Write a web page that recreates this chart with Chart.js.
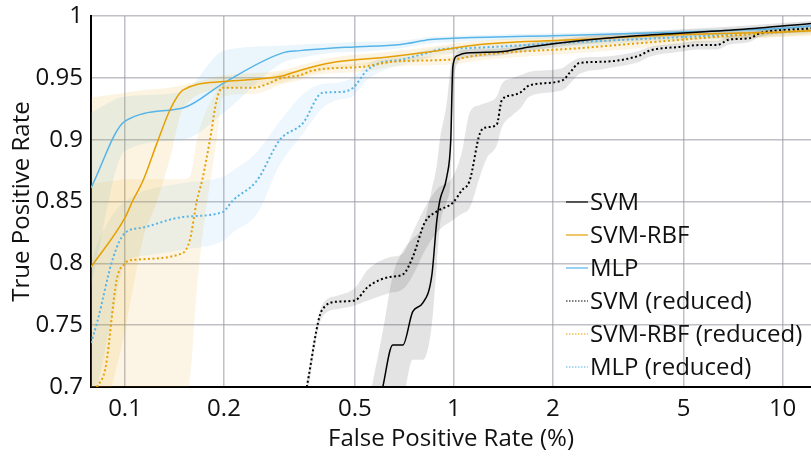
<!DOCTYPE html>
<html>
<head>
<meta charset="utf-8">
<script src="https://cdn.jsdelivr.net/npm/chart.js@4.4.1/dist/chart.umd.min.js"></script>
<style>
html, body { margin: 0; padding: 0; background: #fff; }
</style>
</head>
<body>
<canvas id="myChart" width="811" height="456"></canvas>
<script>
// ROC curves, x = false positive rate (%), y = true positive rate
const svmX  = [0.563, 0.608, 0.652, 0.700, 0.750, 0.805, 0.857, 0.888, 0.907, 0.952, 0.979, 0.993, 1.028, 1.095, 1.38, 1.70, 2.41, 3.6, 7.4, 12.2];
const svmY  = [0.660, 0.700, 0.734, 0.734, 0.761, 0.768, 0.790, 0.835, 0.851, 0.870, 0.900, 0.959, 0.968, 0.970, 0.971, 0.975, 0.980, 0.984, 0.989, 0.994];
const svmHi = [0.700, 0.745, 0.790, 0.810, 0.820, 0.830, 0.860, 0.880, 0.900, 0.930, 0.960, 0.965, 0.971, 0.973, 0.974, 0.978, 0.983, 0.987, 0.992, 0.996];
const svmLo = [0.620, 0.660, 0.680, 0.690, 0.722, 0.722, 0.750, 0.800, 0.830, 0.850, 0.870, 0.930, 0.962, 0.966, 0.968, 0.972, 0.977, 0.981, 0.986, 0.991];

const rbfX  = [0.0788, 0.1, 0.1057, 0.1135, 0.125, 0.137, 0.150, 0.200, 0.300, 0.340, 0.420, 0.640, 0.846, 1.20, 2.41, 5.0, 10.0, 12.2];
const rbfY  = [0.797, 0.837, 0.851, 0.867, 0.897, 0.924, 0.940, 0.947, 0.9515, 0.956, 0.962, 0.967, 0.971, 0.977, 0.981, 0.985, 0.987, 0.988];
const rbfHi = [0.934, 0.938, 0.939, 0.940, 0.941, 0.942, 0.944, 0.952, 0.956, 0.960, 0.966, 0.971, 0.975, 0.980, 0.984, 0.988, 0.990, 0.991];
const rbfLo = [0.640, 0.745, 0.780, 0.820, 0.850, 0.885, 0.925, 0.941, 0.946, 0.951, 0.957, 0.962, 0.966, 0.973, 0.977, 0.981, 0.983, 0.984];

const mlpX  = [0.0788, 0.1, 0.15, 0.2, 0.3, 0.34, 0.42, 0.5, 0.69, 0.85, 1.0, 2.0, 5.0, 10.0, 12.2];
const mlpY  = [0.861, 0.915, 0.9256, 0.946, 0.970, 0.972, 0.974, 0.975, 0.977, 0.981, 0.982, 0.984, 0.987, 0.990, 0.992];
const mlpHi = [0.922, 0.935, 0.939, 0.972, 0.976, 0.977, 0.978, 0.979, 0.980, 0.983, 0.984, 0.986, 0.989, 0.992, 0.994];
const mlpLo = [0.780, 0.891, 0.900, 0.922, 0.962, 0.966, 0.970, 0.971, 0.974, 0.978, 0.979, 0.982, 0.985, 0.988, 0.990];

const svmRedX  = [0.357, 0.397, 0.444, 0.500, 0.548, 0.639, 0.700, 0.750, 0.816, 0.888, 0.993, 1.058, 1.118, 1.20, 1.26, 1.35, 1.40, 1.51, 1.59, 1.70, 2.14, 2.25, 2.41, 2.84, 3.67, 3.94, 4.86, 5.6, 6.3, 6.9, 7.94, 8.5, 12.2];
const svmRedY  = [0.700, 0.762, 0.769, 0.770, 0.781, 0.789, 0.791, 0.805, 0.833, 0.842, 0.849, 0.859, 0.867, 0.905, 0.910, 0.912, 0.932, 0.936, 0.938, 0.944, 0.948, 0.954, 0.962, 0.963, 0.968, 0.972, 0.975, 0.9765, 0.9765, 0.981, 0.982, 0.986, 0.990];
const svmRedHi = [0.705, 0.766, 0.774, 0.780, 0.795, 0.805, 0.808, 0.825, 0.845, 0.860, 0.870, 0.890, 0.922, 0.928, 0.930, 0.935, 0.945, 0.950, 0.952, 0.955, 0.958, 0.962, 0.966, 0.967, 0.972, 0.975, 0.978, 0.980, 0.980, 0.984, 0.985, 0.989, 0.993];
const svmRedLo = [0.690, 0.756, 0.763, 0.766, 0.770, 0.776, 0.779, 0.790, 0.810, 0.825, 0.835, 0.840, 0.845, 0.870, 0.885, 0.895, 0.910, 0.920, 0.925, 0.935, 0.940, 0.945, 0.953, 0.957, 0.963, 0.967, 0.971, 0.973, 0.973, 0.977, 0.979, 0.983, 0.987];

const rbfRedX  = [0.0788, 0.0822, 0.0873, 0.0943, 0.1, 0.1057, 0.149, 0.1575, 0.1655, 0.1716, 0.1813, 0.190, 0.198, 0.245, 0.302, 0.340, 0.373, 0.530, 0.652, 1.0, 1.2, 2.41, 3.67, 7.4, 12.2];
const rbfRedY  = [0.690, 0.700, 0.716, 0.7865, 0.800, 0.8027, 0.808, 0.819, 0.851, 0.867, 0.900, 0.932, 0.942, 0.942, 0.950, 0.952, 0.956, 0.959, 0.963, 0.965, 0.9685, 0.974, 0.978, 0.9846, 0.9887];
const rbfRedHi = [0.865, 0.865, 0.866, 0.867, 0.868, 0.868, 0.868, 0.870, 0.900, 0.915, 0.930, 0.940, 0.946, 0.947, 0.955, 0.956, 0.959, 0.962, 0.966, 0.968, 0.972, 0.977, 0.981, 0.987, 0.991];
const rbfRedLo = [0.550, 0.550, 0.560, 0.580, 0.600, 0.610, 0.680, 0.705, 0.780, 0.820, 0.865, 0.900, 0.935, 0.937, 0.945, 0.948, 0.952, 0.955, 0.959, 0.961, 0.964, 0.970, 0.974, 0.981, 0.985];

const mlpRedX  = [0.0788, 0.0822, 0.0921, 0.1, 0.1135, 0.15, 0.198, 0.213, 0.252, 0.296, 0.348, 0.397, 0.441, 0.493, 0.544, 0.596, 0.685, 0.828, 0.907, 1.095, 2.41, 5.0, 10.0, 12.2];
const mlpRedY  = [0.7356, 0.752, 0.805, 0.8245, 0.829, 0.8375, 0.8415, 0.851, 0.867, 0.900, 0.9135, 0.9377, 0.9385, 0.9418, 0.956, 0.962, 0.9645, 0.970, 0.973, 0.974, 0.979, 0.983, 0.987, 0.989];
const mlpRedHi = [0.800, 0.815, 0.840, 0.850, 0.858, 0.865, 0.870, 0.875, 0.890, 0.915, 0.937, 0.945, 0.946, 0.950, 0.960, 0.966, 0.968, 0.973, 0.975, 0.976, 0.981, 0.985, 0.989, 0.991];
const mlpRedLo = [0.680, 0.700, 0.760, 0.800, 0.806, 0.811, 0.818, 0.825, 0.840, 0.880, 0.905, 0.925, 0.932, 0.935, 0.948, 0.955, 0.960, 0.966, 0.969, 0.970, 0.975, 0.980, 0.984, 0.986];

const xTicks = [0.1, 0.2, 0.5, 1, 2, 5, 10];
const legendNames = ['SVM', 'SVM-RBF', 'MLP', 'SVM (reduced)', 'SVM-RBF (reduced)', 'MLP (reduced)'];

const BLACK = '#000000';
const ORANGE = '#E69F00';
const BLUE = '#56B4E9';

function pts(xs, ys) {
	return xs.map((x, i) => ({ x: x, y: ys[i] }));
}

function lineSet(label, xs, ys, color, dotted) {
	return {
		label: label,
		data: pts(xs, ys),
		borderColor: color,
		borderWidth: dotted ? 2 : 1.5,
		borderDash: dotted ? [2, 2.5] : [],
		pointRadius: 0,
		fill: false,
		cubicInterpolationMode: 'monotone',
		order: 1,
	};
}

// two datasets per band: lower edge, then upper edge filled down to it
function bandSets(xs, lo, hi, fillColor) {
	return [
		{
			label: '_lo',
			data: pts(xs, lo),
			borderWidth: 0,
			borderColor: 'transparent',
			pointRadius: 0,
			fill: false,
			cubicInterpolationMode: 'monotone',
			order: 10,
		},
		{
			label: '_hi',
			data: pts(xs, hi),
			borderWidth: 0,
			borderColor: 'transparent',
			backgroundColor: fillColor,
			pointRadius: 0,
			fill: '-1',
			cubicInterpolationMode: 'monotone',
			order: 10,
		},
	];
}

const datasets = [
	lineSet('SVM', svmX, svmY, BLACK, false),
	lineSet('SVM-RBF', rbfX, rbfY, ORANGE, false),
	lineSet('MLP', mlpX, mlpY, BLUE, false),
	lineSet('SVM (reduced)', svmRedX, svmRedY, BLACK, true),
	lineSet('SVM-RBF (reduced)', rbfRedX, rbfRedY, ORANGE, true),
	lineSet('MLP (reduced)', mlpRedX, mlpRedY, BLUE, true),
	...bandSets(svmX, svmLo, svmHi, 'rgba(0,0,0,0.11)'),
	...bandSets(rbfX, rbfLo, rbfHi, 'rgba(230,159,0,0.12)'),
	...bandSets(mlpX, mlpLo, mlpHi, 'rgba(86,180,233,0.12)'),
	...bandSets(svmRedX, svmRedLo, svmRedHi, 'rgba(0,0,0,0.10)'),
	...bandSets(rbfRedX, rbfRedLo, rbfRedHi, 'rgba(230,159,0,0.10)'),
	...bandSets(mlpRedX, mlpRedLo, mlpRedHi, 'rgba(86,180,233,0.10)'),
];

/* legende dessinee dans la zone du graphique */
const insideLegend = {
	id: 'insideLegend',
	afterDraw(chart, args, opts) {
		const ctx = chart.ctx;
		ctx.save();
		ctx.font = '24px "Open Sans", sans-serif';
		ctx.textBaseline = 'middle';
		legendNames.forEach((name, i) => {
			const ds = chart.data.datasets.find((d) => d.label === name);
			const y = opts.top + i * opts.gap;
			ctx.strokeStyle = ds.borderColor;
			ctx.lineWidth = 1.2;
			ctx.setLineDash(ds.borderDash.length ? [1.5, 1.5] : []);
			ctx.beginPath();
			ctx.moveTo(opts.left, y);
			ctx.lineTo(opts.left + 22, y);
			ctx.stroke();
			ctx.setLineDash([]);
			ctx.fillStyle = '#111';
			ctx.fillText(name, opts.left + 24, y + 1);
		});
		ctx.restore();
	},
};

Chart.defaults.font.family = '"Open Sans", sans-serif';
Chart.defaults.font.size = 24;
Chart.defaults.color = '#111';

const GRID = 'rgba(150,150,160,0.6)';

const config = {
	type: 'line',
	data: { datasets: datasets },
	options: {
		responsive: false,
		animation: false,
		devicePixelRatio: 1,
		layout: { padding: 0 },
		plugins: {
			legend: false,
			tooltip: { enabled: false },
			insideLegend: { left: 566, top: 202, gap: 33 },
		},
		scales: {
			x: {
				type: 'logarithmic',
				min: 0.0788,
				max: 12.2,
				afterBuildTicks: (scale) => {
					scale.ticks = xTicks.map((v) => ({ value: v }));
				},
				ticks: {
					autoSkip: false,
					maxRotation: 0,
					padding: 8,
					callback: (v) => String(v),
				},
				grid: { color: GRID, lineWidth: 1.5, drawTicks: false },
				border: { color: '#000', width: 2 },
				title: { display: true, text: 'False Positive Rate (%)', padding: { top: 0, bottom: 2 } },
				afterFit: (scale) => {
					scale.height = 69;
					scale.paddingLeft = 0;
					scale.paddingRight = 0;
				},
			},
			y: {
				type: 'linear',
				min: 0.7,
				max: 1,
				ticks: {
					stepSize: 0.05,
					padding: 8,
					callback: (v) => String(+v.toFixed(2)),
				},
				grid: { color: GRID, lineWidth: 1.5, drawTicks: false },
				border: { color: '#000', width: 2 },
				title: { display: true, text: 'True Positive Rate', padding: { top: 8, bottom: 0 } },
				afterFit: (scale) => {
					scale.width = 91;
					scale.paddingTop = 16;
					scale.paddingBottom = 0;
				},
			},
		},
	},
	plugins: [insideLegend],
};

const context = document.getElementById('myChart').getContext('2d');
const chart = new Chart(context, config);
</script>
</body>
</html>
